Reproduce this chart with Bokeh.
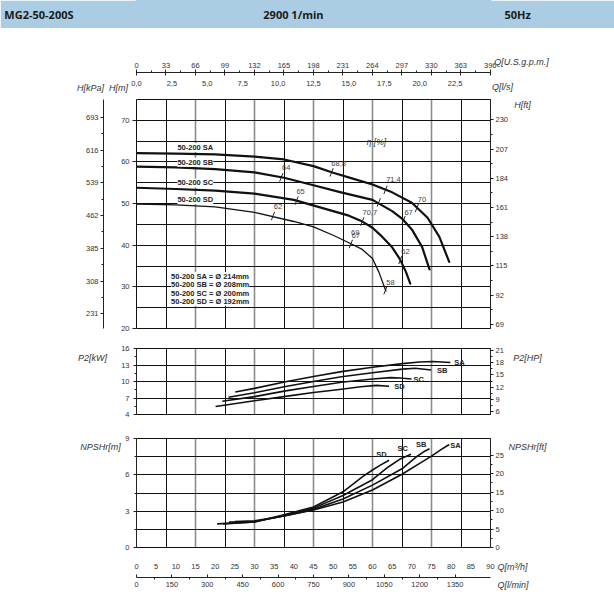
from bokeh.plotting import figure
from bokeh.models import (Range1d, LinearAxis, FixedTicker, Grid, Label,
                          CustomJSTickFormatter)
from bokeh.layouts import column
from bokeh.embed import file_html
from bokeh.resources import INLINE
from bokeh.core.properties import value

# ---------------------------------------------------------------- data
names = ["SA", "SB", "SC", "SD"]
diam = ["214mm", "208mm", "200mm", "192mm"]

# Q-H curves  (Q in m3/h, H in m)
q_h_sa = [0, 10, 20, 30, 37.5, 45, 50, 55, 60, 65, 70, 74, 77, 79.5]
h_sa = [62.1, 62.0, 61.8, 61.3, 60.6, 59.0, 57.4, 56.0, 54.6, 52.7, 50.2, 46.6, 42.0, 36.0]
q_h_sb = [0, 10, 20, 30, 37.5, 45, 52, 60, 65, 67.5, 70, 72.6, 74.5]
h_sb = [58.9, 58.7, 58.3, 57.5, 56.2, 54.4, 52.7, 50.9, 48.2, 46.4, 43.8, 39.6, 34.2]
q_h_sc = [0, 10, 20, 30, 40, 50, 54, 57, 60, 62.5, 65, 67, 68.5, 69.6]
h_sc = [53.8, 53.5, 53.1, 52.4, 50.9, 48.2, 47.1, 45.9, 44.2, 42.0, 39.5, 36.6, 33.6, 30.8]
q_h_sd = [0, 10, 20, 30, 40, 45, 50, 54, 57.4, 60, 61.6, 63.4]
h_sd = [49.9, 49.7, 49.2, 47.9, 45.7, 44.4, 42.4, 40.6, 39.0, 36.8, 33.6, 29.0]

# efficiency marks on the Q-H curves
eff_q = [49.6, 63.3, 71.3, 36.8, 61.6, 67.9, 40.7, 57.4, 67.1, 34.7, 54.5, 63.3]
eff_h = [57.5, 53.3, 49.0, 56.3, 50.3, 46.0, 50.7, 45.7, 36.5, 47.0, 40.3, 29.2]
eff_txt = ["68,8", "71,4", "70", "64", "70,7", "67", "65", "69", "62", "62", "67", "58"]
eff_dx = [7, 8, 5, 5, -9, 5, 4, -7, 5, 5, 5, 5]
eff_dy = [-9, -10, -8, -10, 10, -8, -9, 11, -8, -10, -8, -8]

# P2 curves (kW)
q_p_sa = [25.1, 30, 37.9, 45, 52.1, 60, 67.6, 72, 75.3, 79.8]
p_sa = [8.1, 8.75, 9.95, 10.9, 11.8, 12.6, 13.25, 13.55, 13.65, 13.45]
q_p_sb = [23.4, 30, 37.9, 45, 52.1, 60, 67.6, 70.9, 74.9]
p_sb = [7.15, 7.95, 9.1, 10.0, 10.85, 11.6, 12.25, 12.4, 12.1]
q_p_sc = [21.8, 30, 37.9, 45, 52.1, 60, 64.6, 67, 69.9]
p_sc = [6.4, 7.25, 8.3, 9.1, 9.85, 10.45, 10.7, 10.65, 10.45]
q_p_sd = [20.1, 30, 37.9, 45, 52.1, 57, 61, 64.2]
p_sd = [5.45, 6.5, 7.3, 8.0, 8.6, 9.05, 9.3, 9.15]

# NPSHr curves (m)
q_n_sa = [25, 30, 37.5, 45, 52.5, 60, 67.5, 72, 75, 77.5, 79.5]
n_sa = [2.15, 2.2, 2.6, 3.1, 3.75, 4.75, 6.05, 6.95, 7.55, 8.1, 8.5]
q_n_sb = [23.5, 30, 37.5, 45, 52.5, 60, 67.5, 71, 73, 74.5]
n_sb = [2.1, 2.15, 2.6, 3.15, 4.0, 5.15, 6.5, 7.45, 7.9, 8.15]
q_n_sc = [22, 30, 37.5, 45, 52.5, 60, 64, 67, 69.8]
n_sc = [1.95, 2.1, 2.65, 3.25, 4.3, 5.6, 6.65, 7.3, 7.7]
q_n_sd = [20.5, 30, 37.5, 45, 52.5, 57.5, 60, 62, 64.2]
n_sd = [1.95, 2.1, 2.7, 3.35, 4.6, 5.85, 6.4, 6.8, 7.2]

# tick values
gpm_ticks = [0, 33, 66, 99, 132, 165, 198, 231, 264, 297, 330, 363, 396]
ls_ticks = [0, 2.5, 5, 7.5, 10, 12.5, 15, 17.5, 20, 22.5]
m_ticks = [20, 30, 40, 50, 60, 70]
kpa_ticks = [231, 308, 385, 462, 539, 616, 693]
ft_ticks = [69, 92, 115, 138, 161, 184, 207, 230]
kw_ticks = [4, 7, 10, 13, 16]
hp_ticks = [6, 9, 12, 15, 18, 21]
nm_ticks = [0, 3, 6, 9]
nft_ticks = [0, 5, 10, 15, 20, 25]
q_ticks = [0, 5, 10, 15, 20, 25, 30, 35, 40, 45, 50, 55, 60, 65, 70, 75, 80, 85, 90]
lmin_ticks = [0, 150, 300, 450, 600, 750, 900, 1050, 1200, 1350]

# unit conversions
KPA_M = 9.80665
FT_M = 1 / 0.3048
GPM_M3H = 4.402868
LS_M3H = 1 / 3.6
LMIN_M3H = 1000 / 60
HP_KW = 1 / 0.7457

# ---------------------------------------------------------------- style
FONT = "Liberation Sans"
TICK_FS = "7.5px"
TXT = "#333333"
W = 614
QMAX = 90
BL, BR = 136, 124          # side borders -> frame from x=136 to x=490


def mids(t):
    return [(a + b) / 2 for a, b in zip(t[:-1], t[1:])]


def axis(ticks, dim="y", rng=None, minor=None, t_in=0, t_out=3, m_out=2,
         line=True, standoff=3, pad=None, fmt=None):
    kw = {}
    if rng:
        kw["y_range_name" if dim == "y" else "x_range_name"] = rng
    ax = LinearAxis(ticker=FixedTicker(ticks=ticks, minor_ticks=minor or []), **kw)
    ax.major_tick_in = t_in
    ax.major_tick_out = t_out
    ax.minor_tick_in = 0
    ax.minor_tick_out = m_out if minor else 0
    ax.major_label_standoff = standoff
    ax.major_label_text_font = FONT
    ax.major_label_text_font_size = TICK_FS
    ax.major_label_text_color = TXT
    ax.axis_line_color = "#222222" if line else None
    ax.major_tick_line_color = "#222222"
    ax.minor_tick_line_color = "#222222"
    if fmt:
        ax.formatter = fmt
    if pad is not None:
        ax.axis_label = " "
        ax.axis_label_text_font_size = "1px"
        ax.axis_label_standoff = pad
    return ax


def new_fig(height, y0, y1, top, bottom):
    p = figure(width=W, height=height, x_range=Range1d(0, QMAX), y_range=Range1d(y0, y1),
               output_backend="svg", toolbar_location=None,
               x_axis_location=None, y_axis_location=None,
               min_border_left=BL, min_border_right=BR,
               min_border_top=top, min_border_bottom=bottom)
    for g in list(p.grid):
        g.visible = False
    return p


def plain(height, color, y0=0, y1=1):
    p = new_fig(height, y0, y1, 0, 0)
    p.outline_line_color = color
    p.outline_line_width = 2
    p.background_fill_color = color
    p.border_fill_color = color
    p.quad(left=[0], right=[QMAX], bottom=[min(y0, y1)], top=[max(y0, y1)],
           fill_color=color, line_color=None)
    return p


def base(height, top, bottom, y0, y1):
    p = new_fig(height, y0, y1, top, bottom)
    p.outline_line_color = "#111111"
    p.outline_line_width = 1
    p.background_fill_color = "white"
    p.border_fill_color = "white"
    # vertical grid every 7.5 m3/h (33 US gpm)
    odd = [7.5 * k for k in range(1, 12, 2)]
    even = [7.5 * k for k in range(2, 12, 2)]
    p.add_layout(Grid(dimension=0, ticker=FixedTicker(ticks=odd),
                      grid_line_color="#111111", grid_line_width=1))
    p.add_layout(Grid(dimension=0, ticker=FixedTicker(ticks=even),
                      grid_line_color="#8c8c8c", grid_line_width=1.6))
    return p


def hgrid(p, ticks):
    p.add_layout(Grid(dimension=1, ticker=FixedTicker(ticks=ticks),
                      grid_line_color="#111111", grid_line_width=1))


def side_label(p, x, y, text, place, align="center", size="9px", style="italic",
               color=TXT, font=FONT):
    p.add_layout(Label(x=x, y=y, text=text, text_font=font, text_font_size=size,
                       text_font_style=style, text_color=color,
                       text_align=align, text_baseline="middle"), place)


# ---------------------------------------------------------------- header band
hdr = plain(28, "#abcde4", 28, 0)
side_label(hdr, -33.6, 14, "MG2-50-200S", "left", align="left", size="11px",
           style="bold", color="#1a1a1a", font="Open Sans")
hdr.add_layout(Label(x=39.9, y=14, text="2900 1/min", text_font="Open Sans",
                     text_font_size="11px", text_font_style="bold", text_color="#1a1a1a",
                     text_align="center", text_baseline="middle"))
side_label(hdr, 96.9, 14, "50Hz", "right", size="11px", style="bold",
           color="#1a1a1a", font="Open Sans")
gap = plain(11, "white")
bar = plain(2, "#6e6e6e")

# ---------------------------------------------------------------- Q-H
fh = base(297, 58, 10, 20, 75)
fh.extra_y_ranges = {"kpa": Range1d(20 * KPA_M, 75 * KPA_M), "ft": Range1d(20 * FT_M, 75 * FT_M)}
fh.extra_x_ranges = {"gpm": Range1d(0, QMAX * GPM_M3H), "ls": Range1d(0, QMAX * LS_M3H)}
hgrid(fh, [25, 30, 35, 40, 45, 50, 55, 60, 65, 70])

fh.add_layout(axis(m_ticks, t_out=4, line=False, standoff=3, pad=11), "left")
fh.add_layout(axis(kpa_ticks, rng="kpa", minor=mids(kpa_ticks), t_out=3, standoff=2), "left")
fh.add_layout(axis(ft_ticks, rng="ft", minor=mids(ft_ticks), t_out=3, standoff=2), "right")
fh.add_layout(axis(ls_ticks, dim="x", rng="ls", t_out=0, line=False, standoff=14, pad=1,
                   fmt=CustomJSTickFormatter(code="return tick.toFixed(1).replace('.', ',');")),
              "above")
fh.add_layout(axis(gpm_ticks, dim="x", rng="gpm", minor=mids(gpm_ticks), t_in=3, t_out=3,
                   standoff=2), "above")

qh = [(q_h_sa, h_sa, 2.2), (q_h_sb, h_sb, 2.2), (q_h_sc, h_sc, 2.2), (q_h_sd, h_sd, 1.3)]
for q, h, w in qh:
    fh.line(q, h, line_color="#111111", line_width=w, line_join="round", line_cap="round")

fh.scatter(eff_q, eff_h, marker="dash", size=9, angle=1.2, line_color="#222222", line_width=1)
fh.text(x=eff_q, y=eff_h, text=eff_txt, x_offset=eff_dx, y_offset=eff_dy,
        text_align="center", text_baseline="middle",
        text_font=value(FONT), text_font_size=value("7.5px"), text_color="#444444")

fh.text(x=[10.4] * 4, y=[63.45, 59.9, 54.95, 50.96], text=["50-200 " + n for n in names],
        text_align="left", text_baseline="middle", text_font=value(FONT),
        text_font_size=value("7.5px"), text_font_style="bold", text_color="#222222",
        background_fill_color="white")
fh.text(x=[8.8] * 4, y=[32.5] * 4, y_offset=[0, 8.3, 16.6, 24.9],
        text=["50-200 %s = \u00d8 %s" % (n, d) for n, d in zip(names, diam)],
        text_align="left", text_baseline="middle", text_font=value(FONT),
        text_font_size=value("7.5px"), text_font_style="bold", text_color="#222222",
        background_fill_color="white")
fh.add_layout(Label(x=61.0, y=64.74, text="\u03b7 [%]", text_font=FONT, text_font_size="8.5px",
                    text_font_style="italic", text_color=TXT, text_align="center",
                    text_baseline="middle"))
side_label(fh, -11.69, 77.88, "H[kPa]", "left")
side_label(fh, -4.58, 77.88, "H[m]", "left")
side_label(fh, 97.88, 83.89, "Q[U.S.g.p.m.]", "right")
side_label(fh, 93.05, 78.12, "Q[l/s]", "right")
side_label(fh, 98.14, 73.56, "H[ft]", "above")

# ---------------------------------------------------------------- P2
fp = base(90, 10, 14, 4, 16)
fp.extra_y_ranges = {"hp": Range1d(4 * HP_KW, 16 * HP_KW)}
hgrid(fp, [7, 10, 13])
fp.add_layout(axis(kw_ticks, minor=mids(kw_ticks), t_out=3, standoff=4), "left")
fp.add_layout(axis(hp_ticks, rng="hp", minor=mids(hp_ticks), t_out=3, standoff=2), "right")
for q, pw in [(q_p_sa, p_sa), (q_p_sb, p_sb), (q_p_sc, p_sc), (q_p_sd, p_sd)]:
    fp.line(q, pw, line_color="#111111", line_width=1.6, line_join="round")
fp.text(x=[80.8, 76.4, 70.4, 65.5], y=[13.5, 12.0, 10.3, 9.1], text=names,
        text_align="left", text_baseline="middle", text_font=value(FONT),
        text_font_size=value("7.5px"), text_font_style="bold", text_color="#222222")
side_label(fp, -11.19, 14.36, "P2[kW]", "left")
side_label(fp, 99.41, 14.36, "P2[HP]", "right")

# ---------------------------------------------------------------- NPSHr
fn = base(167, 10, 48, 0, 9)
fn.extra_y_ranges = {"ft": Range1d(0, 9 * FT_M)}
fn.extra_x_ranges = {"lmin": Range1d(0, QMAX * LMIN_M3H)}
hgrid(fn, [1.5, 3, 4.5, 6, 7.5])
fn.add_layout(axis(nm_ticks, minor=mids(nm_ticks), t_out=3, standoff=4), "left")
fn.add_layout(axis(nft_ticks, rng="ft", minor=mids(nft_ticks), t_out=3, standoff=2), "right")
fn.add_layout(axis(q_ticks, dim="x", t_out=0, line=False, standoff=16, pad=2), "below")
fn.add_layout(axis(lmin_ticks, dim="x", rng="lmin", minor=mids(lmin_ticks), t_in=3, t_out=0,
                   standoff=2), "below")
for q, n in [(q_n_sa, n_sa), (q_n_sb, n_sb), (q_n_sc, n_sc), (q_n_sd, n_sd)]:
    fn.line(q, n, line_color="#111111", line_width=1.6, line_join="round")
fn.text(x=[81.1, 72.4, 67.7, 62.3], y=[8.43, 8.5, 8.16, 7.69], text=names,
        text_align="center", text_baseline="middle", text_font=value(FONT),
        text_font_size=value("7.5px"), text_font_style="bold", text_color="#222222")
side_label(fn, -9.15, 8.26, "NPSHr[m]", "left")
side_label(fn, 99.41, 8.26, "NPSHr[ft]", "right")
side_label(fn, 91.78, -1.57, "Q[m\u00b3/h]", "right", align="left")
side_label(fn, 91.78, -3.13, "Q[l/min]", "left", align="left")

rule = plain(2, "#a0a0a0")

layout = column(hdr, gap, bar, fh, fp, fn, rule)
open("out.html", "w").write(file_html(layout, INLINE))
